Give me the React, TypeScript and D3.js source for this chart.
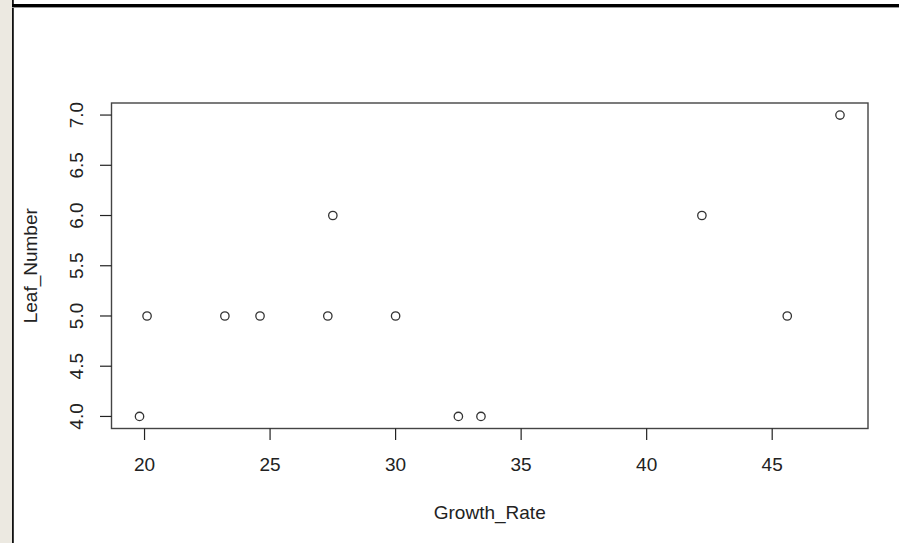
import React from "react";
import * as d3 from "d3";

const growthRate = [19.8, 20.1, 23.2, 24.6, 27.3, 27.5, 30.0, 32.5, 33.4, 42.2, 45.6, 47.7];
const leafNumber = [4, 5, 5, 5, 5, 6, 5, 4, 4, 6, 5, 7];
const xTicks = [20, 25, 30, 35, 40, 45];
const yTicks = [4.0, 4.5, 5.0, 5.5, 6.0, 6.5, 7.0];
const xLabel = "Growth_Rate";
const yLabel = "Leaf_Number";

const W = 899;
const H = 543;
const plot = { left: 111.5, right: 868, top: 103, bottom: 428.5 };

export default function App() {
  const xr = d3.extent(growthRate) as [number, number];
  const yr = d3.extent(leafNumber) as [number, number];
  const xPad = (xr[1] - xr[0]) * 0.04;
  const yPad = (yr[1] - yr[0]) * 0.04;
  const x = d3.scaleLinear().domain([xr[0] - xPad, xr[1] + xPad]).range([plot.left, plot.right]);
  const y = d3.scaleLinear().domain([yr[0] - yPad, yr[1] + yPad]).range([plot.bottom, plot.top]);
  const font = "'Liberation Sans', Arial, sans-serif";
  const fs = 19;
  const ink = "#222";
  const yMid = (plot.top + plot.bottom) / 2;
  const xMid = (plot.left + plot.right) / 2;

  return (
    <svg width={W} height={H} style={{ position: "absolute", left: 0, top: 0, background: "#fff" }}
      fontFamily={font}>
      <rect x={0} y={0} width={W} height={H} fill="#fff" />
      <rect x={0} y={0} width={12} height={H} fill="#ECE9E1" />
      <rect x={12} y={0} width={1.8} height={H} fill="#111" />
      <rect x={12} y={4} width={W - 12} height={3} fill="#000" />
      <rect x={12} y={7} width={W - 12} height={1} fill="#999" />

      <rect x={plot.left} y={plot.top} width={plot.right - plot.left} height={plot.bottom - plot.top}
        fill="none" stroke="#444" strokeWidth={1.4} />

      {xTicks.map((t) => (
        <g key={"x" + t}>
          <line x1={x(t)} x2={x(t)} y1={plot.bottom} y2={plot.bottom + 11.5} stroke={ink} strokeWidth={1.2} />
          <text x={x(t)} y={471} textAnchor="middle" fontSize={fs} fill={ink}>{t}</text>
        </g>
      ))}
      {yTicks.map((t) => (
        <g key={"y" + t}>
          <line x1={plot.left - 11.5} x2={plot.left} y1={y(t)} y2={y(t)} stroke={ink} strokeWidth={1.2} />
          <text transform={`translate(83,${y(t)}) rotate(-90)`} textAnchor="middle" fontSize={fs} fill={ink}>
            {t.toFixed(1)}
          </text>
        </g>
      ))}

      <text x={xMid} y={519} textAnchor="middle" fontSize={fs} fill={ink}>{xLabel}</text>
      <text transform={`translate(37,${yMid}) rotate(-90)`} textAnchor="middle" fontSize={fs} fill={ink}>{yLabel}</text>

      {growthRate.map((g, i) => (
        <circle key={i} cx={x(g)} cy={y(leafNumber[i])} r={4.2} fill="none" stroke="#333" strokeWidth={1.3} />
      ))}
    </svg>
  );
}
